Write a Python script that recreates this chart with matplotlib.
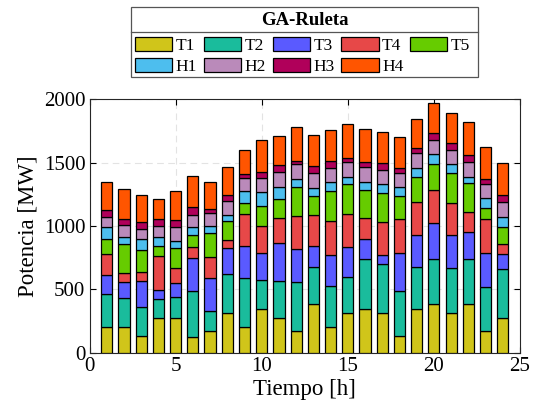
import numpy as np
import matplotlib
matplotlib.use("Agg")
import matplotlib.pyplot as plt
from matplotlib.lines import Line2D
from matplotlib.patches import Rectangle

hours = list(range(1, 25))
series_names = ["T1", "T2", "T3", "T4", "T5", "H1", "H2", "H3", "H4"]

T1 = [200, 200, 132, 274, 274, 126, 168, 311, 200, 347, 274, 168, 382, 200, 311, 347, 311, 132, 347, 382, 311, 382, 168, 274]
T2 = [263, 229, 226, 152, 163, 364, 161, 307, 392, 227, 294, 387, 292, 326, 289, 390, 392, 355, 327, 360, 360, 360, 353, 389]
T3 = [153, 126, 205, 71, 116, 255, 258, 211, 250, 210, 295, 261, 168, 248, 237, 163, 71, 300, 258, 279, 255, 208, 269, 119]
T4 = [160, 74, 71, 266, 118, 92, 168, 61, 253, 216, 200, 263, 242, 268, 261, 163, 260, 266, 258, 263, 253, 163, 268, 73]
T5 = [119, 226, 177, 82, 153, 89, 187, 147, 84, 161, 148, 226, 153, 232, 231, 221, 224, 184, 194, 208, 242, 229, 84, 140]
H1 = [95, 61, 89, 71, 60, 69, 58, 50, 100, 105, 100, 66, 66, 71, 58, 66, 71, 68, 76, 74, 69, 48, 77, 79]
H2 = [84, 92, 76, 84, 106, 95, 100, 108, 98, 111, 113, 116, 113, 110, 116, 113, 113, 111, 113, 111, 108, 115, 110, 116]
H3 = [53, 45, 53, 53, 55, 58, 32, 53, 31, 52, 55, 29, 55, 56, 37, 42, 58, 42, 45, 55, 55, 56, 40, 55]
H4 = [221, 237, 219, 158, 234, 250, 216, 221, 192, 250, 229, 263, 250, 250, 263, 264, 240, 242, 229, 242, 242, 258, 258, 253]

colors = ["#D0C51A", "#1ABC9C", "#5A5AFF", "#E74848", "#66CC00",
          "#4DBEEE", "#BA8ABA", "#B0005A", "#FF5500"]

xticks = [0, 5, 10, 15, 20, 25]
yticks = [0, 500, 1000, 1500, 2000]
legend_title = "GA-Ruleta"

plt.rcParams['font.family'] = ['Liberation Serif', 'DejaVu Serif']

W, H = 538, 413
fig = plt.figure(figsize=(W / 100, H / 100), dpi=100)
ax = fig.add_axes([0.1664, 0.146, 0.8001, 0.6136])

data = [T1, T2, T3, T4, T5, H1, H2, H3, H4]
bottom = np.zeros(len(hours))
handles = {}
for name, vals, c in zip(series_names, data, colors):
    b = ax.bar(hours, vals, width=0.65, bottom=bottom, color=c,
               edgecolor='black', linewidth=0.9, label=name, zorder=3)
    handles[name] = b
    bottom += np.array(vals)

ax.set_xlim(0, 25)
ax.set_ylim(0, 2000)
ax.set_xticks(xticks)
ax.set_yticks(yticks)
ax.tick_params(direction='in', top=True, right=True, labelsize=15, length=4,
               width=0.8, pad=3)
ax.grid(True, linestyle=(0, (6, 4)), color='#e3e3e3', linewidth=0.8, zorder=0)
for s in ax.spines.values():
    s.set_linewidth(0.8)
    s.set_color('#262626')
ax.set_xlabel("Tiempo [h]", fontsize=16.5, labelpad=2)
ax.set_ylabel("Potencia [MW]", fontsize=16.5, labelpad=4)

# legend box (row-major order like reference)
order = ["T1", "H1", "T2", "H2", "T3", "H3", "T4", "H4", "T5"]
x0, x1, y0, y1, ysep = 131, 478, 7.3, 77.3, 32.3
fig.add_artist(Rectangle((x0 / W, 1 - y1 / H), (x1 - x0) / W, (y1 - y0) / H,
                         transform=fig.transFigure, facecolor='white',
                         edgecolor='#555555', linewidth=0.9, zorder=5))
fig.add_artist(Line2D([x0 / W, x1 / W], [1 - ysep / H, 1 - ysep / H], color='#555555',
                      linewidth=0.9, transform=fig.transFigure, zorder=6))
fig.text((x0 + x1) / 2 / W, 1 - 20.5 / H, legend_title, ha='center', va='center',
         fontsize=13.5, fontweight='bold', zorder=6)
leg = fig.legend(handles=[handles[n] for n in order], labels=order, ncol=5,
                 loc='upper left', bbox_to_anchor=(135 / W, 1 - 36.5 / H),
                 bbox_transform=fig.transFigure, frameon=False,
                 fontsize=12.5, handlelength=2.15, handleheight=0.9,
                 handletextpad=0.2, columnspacing=0.38, labelspacing=0.22,
                 borderpad=0.0, borderaxespad=0.0)
leg.set_zorder(7)

fig.savefig("out.png", dpi=100)
